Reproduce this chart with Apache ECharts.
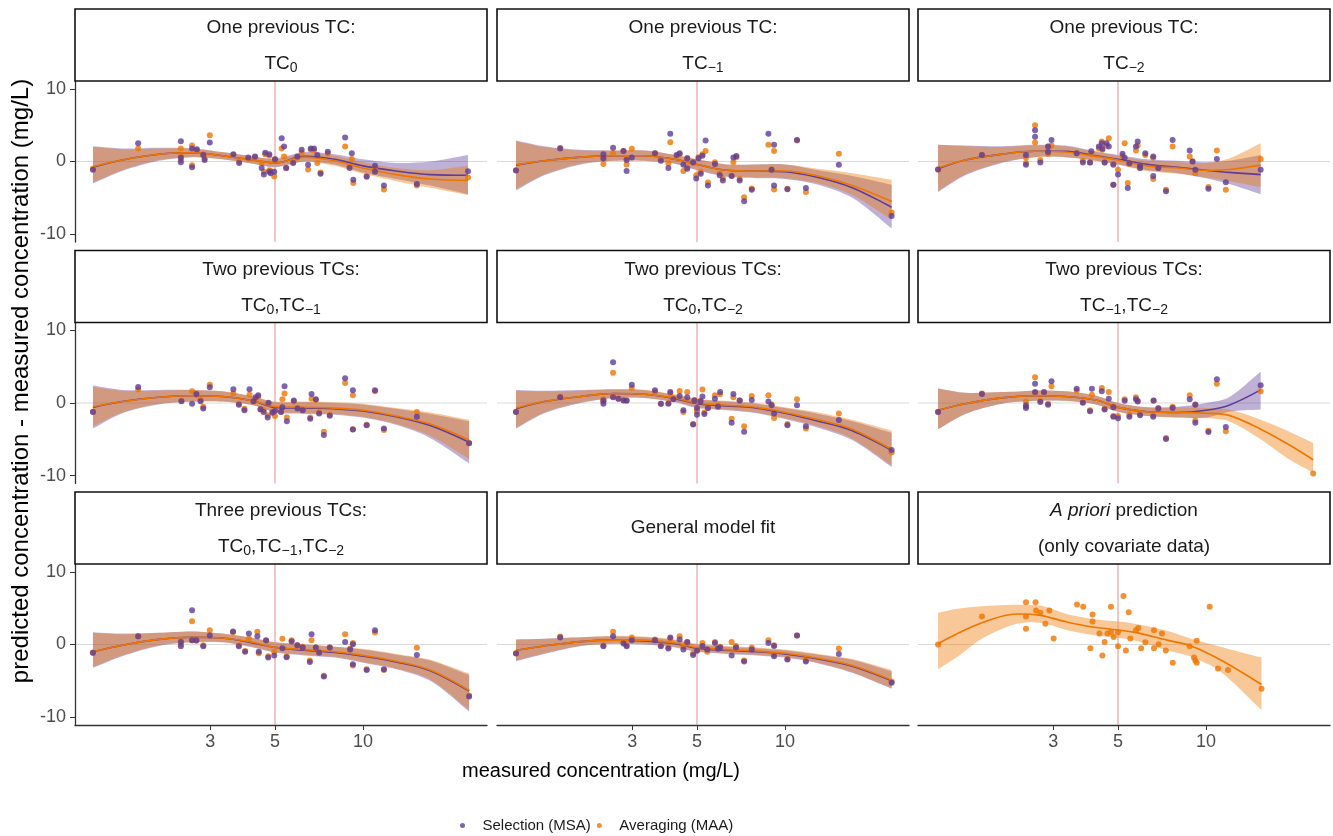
<!DOCTYPE html>
<html>
<head>
<meta charset="utf-8">
<script src="https://cdn.jsdelivr.net/npm/echarts@6/dist/echarts.min.js"></script>
<style>
html,body{margin:0;padding:0;background:#fff}
#main{width:1333px;height:836px}
</style>
</head>
<body>
<div id="main"></div>
<script>
// ---- data (x = measured conc., y = pred - meas) ----
var p1X   = [1.19,1.70,2.38,2.38,2.38,2.60,2.60,2.70,2.84,2.87,2.99,3.60,3.77,4.05,4.27,4.50,4.58,4.63,4.78,4.78,4.83,4.97,5.00,5.27,5.37,5.46,5.77,5.96,6.17,6.49,6.63,6.80,6.98,7.16,7.58,8.69,9.00,9.16,9.27,10.3,11.0,11.0,11.8,15.3,22.9];
var p1Msa = [-1.15,2.5,2.8,0.5,-0.1,1.8,-0.8,1.7,0.9,0.2,2.6,1.0,-0.2,0.55,0.7,-0.9,-1.8,1.2,1.0,-1.4,-1.6,-1.4,0.3,3.2,2.05,-0.9,-0.2,0.7,1.6,-0.45,1.8,1.8,0.9,-1.7,1.35,3.3,-0.9,1.15,-2.5,-2.1,-0.6,-1.4,-3.3,-3.1,-1.35];
var p1Maa = [-1.0,1.8,1.8,0.7,0.2,2.2,-0.5,1.5,1.0,0.4,3.6,0.9,0.0,0.4,0.6,-0.2,-1.4,1.0,0.8,-1.2,-1.3,-2.05,0.3,1.8,0.7,-0.9,-0.1,0.5,1.2,-1.1,1.6,1.5,-0.2,-1.5,1.1,2.05,-0.7,0.35,-2.95,-2.0,-0.9,-1.2,-3.85,-3.3,-2.2];
var p1Fx     = [1.19,1.5,2.0,2.6,3.3,4.2,5.0,6.3,8.0,10,13,17,22.9];
var p1MsaFit = [-0.8,0.2,1.0,1.2,0.8,0.2,-0.2,0.7,0.3,-0.6,-1.3,-1.8,-1.9];
var p1MsaLo  = [-3.0,-1.3,0.1,0.6,0.3,-0.3,-0.8,0.0,-0.4,-1.5,-2.4,-3.3,-4.5];
var p1MsaHi  = [2.1,1.8,1.9,1.8,1.3,0.7,0.4,1.3,1.0,0.3,-0.2,0.0,0.9];
var p1MaaFit = [-0.7,0.2,1.0,1.2,0.8,0.2,-0.2,0.6,0.1,-0.9,-1.8,-2.4,-2.6];
var p1MaaLo  = [-2.9,-1.2,0.2,0.6,0.3,-0.3,-0.7,0.0,-0.6,-1.7,-2.7,-3.6,-4.6];
var p1MaaHi  = [2.0,1.7,1.8,1.8,1.3,0.7,0.3,1.1,0.8,-0.1,-0.9,-1.2,-0.6];

var p2X   = [1.20,1.70,2.39,2.39,2.58,2.80,2.87,2.87,2.99,3.59,3.76,3.99,4.05,4.26,4.36,4.49,4.63,4.63,4.85,4.97,5.06,5.15,5.22,5.35,5.45,5.76,5.98,6.13,6.57,6.66,6.82,7.00,7.25,7.70,8.78,9.00,9.18,9.18,10.2,11.0,11.8,15.3,23.2];
var p2Msa = [-1.25,1.8,1.0,0.4,1.9,1.45,0.2,-1.3,0.55,1.15,0.1,-0.9,3.8,0.9,1.15,-0.45,0.45,-1.0,-0.1,-2.35,0.45,-1.7,0.8,2.9,-3.3,-0.35,-1.9,-2.6,-2.0,0.55,0.75,-2.6,-5.45,-3.9,3.8,-1.15,2.3,-3.3,-3.8,2.95,-3.65,-0.45,-7.5];
var p2Maa = [-1.2,1.85,-0.35,0.5,1.15,1.45,0.4,-0.4,1.75,1.15,0.2,-0.25,2.65,0.8,1.0,-1.3,0.45,-0.8,-0.25,-1.9,0.6,-1.4,1.0,1.45,-2.9,-0.1,-1.6,-2.3,-1.95,-0.1,0.6,-2.4,-4.9,-3.7,2.3,-1.1,1.45,-3.85,-3.75,2.9,-4.2,1.05,-7.0];
var p2Fx     = [1.2,1.5,2.0,2.6,3.3,4.2,5.0,6.3,8.0,10,13,17,23.2];
var p2MsaFit = [-0.5,0.1,0.6,0.8,0.8,0.3,-0.4,-1.2,-1.3,-1.4,-2.2,-3.6,-6.3];
var p2MsaLo  = [-4.0,-1.9,-0.4,0.1,0.1,-0.3,-1.2,-2.1,-2.3,-2.4,-3.2,-5.0,-9.2];
var p2MsaHi  = [2.9,2.1,1.6,1.5,1.5,0.9,0.3,-0.4,-0.4,-0.4,-1.2,-2.0,-3.2];
var p2MaaFit = [-0.45,0.1,0.6,0.8,0.8,0.3,-0.4,-1.2,-1.3,-1.3,-2.0,-3.3,-5.5];
var p2MaaLo  = [-3.8,-1.8,-0.3,0.1,0.1,-0.3,-1.1,-2.0,-2.2,-2.3,-3.0,-4.6,-8.0];
var p2MaaHi  = [2.8,2.0,1.5,1.5,1.5,0.9,0.3,-0.4,-0.4,-0.4,-1.0,-1.6,-2.5];

var p3X   = [1.21,1.71,2.42,2.42,2.60,2.60,2.71,2.88,2.88,2.96,3.61,3.79,4.01,4.05,4.30,4.40,4.42,4.50,4.57,4.65,4.82,4.82,5.00,5.18,5.27,5.40,5.47,5.76,5.84,5.95,5.95,6.20,6.60,6.60,6.87,7.30,7.69,8.80,9.00,9.20,10.2,10.9,11.7,15.4];
var p3Msa = [-1.1,0.9,0.9,-0.45,4.3,3.4,-0.15,2.05,1.3,2.95,1.15,-0.15,-0.15,1.4,2.05,2.5,1.75,-0.15,2.5,2.05,-0.45,-3.2,-1.8,1.05,0.5,-3.65,-0.25,2.05,2.75,-0.6,-0.9,1.15,0.7,-2.0,-0.9,-4.1,2.95,1.5,0.0,-1.15,-3.75,0.35,-2.85,-1.15];
var p3Maa = [-1.1,0.9,0.5,-0.2,5.0,2.6,0.2,2.05,1.05,2.2,1.15,0.1,-0.15,1.05,1.8,2.75,1.6,-0.15,2.2,3.2,-0.3,-3.2,-1.15,0.8,2.5,-2.95,-0.3,1.5,2.2,-0.6,-0.9,0.9,0.5,-2.4,-0.9,-3.9,2.05,0.7,0.0,-1.6,-3.5,1.5,-3.9,0.35];
var p3Fx     = [1.21,1.5,2.0,2.6,3.3,4.2,5.0,6.3,8.0,10,12,15.4];
var p3MsaFit = [-1.0,0.2,1.0,1.4,1.4,0.8,0.3,-0.4,-0.8,-1.2,-1.5,-1.8];
var p3MsaLo  = [-4.2,-1.9,-0.2,0.6,0.6,0.1,-0.4,-1.2,-1.6,-2.3,-3.1,-4.5];
var p3MsaHi  = [2.3,2.2,2.1,2.3,2.2,1.4,0.9,0.3,0.1,-0.1,0.1,0.9];
var p3MaaFit = [-0.9,0.2,1.0,1.4,1.3,0.7,0.2,-0.6,-0.9,-1.2,-1.1,-0.5];
var p3MaaLo  = [-4.1,-1.8,-0.1,0.6,0.6,0.1,-0.4,-1.3,-1.7,-2.2,-2.7,-3.5];
var p3MaaHi  = [2.3,2.1,2.0,2.2,2.1,1.3,0.8,0.1,-0.1,-0.2,0.4,2.5];

var p4X   = [1.19,1.70,2.39,2.60,2.69,2.78,2.84,2.99,3.60,3.76,3.93,4.09,4.22,4.29,4.38,4.46,4.57,4.72,4.75,4.90,5.00,5.24,5.30,5.39,5.49,5.80,5.97,6.22,6.60,6.67,6.90,7.08,7.35,7.70,8.69,9.24,9.24,10.3,11.0,11.8,15.3,23.1];
var p4Msa = [-1.25,2.2,0.25,-0.1,1.25,0.25,-0.75,2.15,1.9,-0.25,-1.0,1.9,0.25,0.8,1.05,-0.85,-1.25,-2.0,0.05,-1.35,-1.1,-1.25,-0.6,2.3,-2.5,0.35,-0.75,-1.0,-2.15,1.25,0.5,-1.45,-4.4,-1.75,3.4,1.75,-3.65,-3.05,1.75,-3.5,-1.9,-5.55];
var p4Maa = [-1.2,1.85,0.3,1.6,1.1,0.4,-0.5,2.5,1.3,-0.1,-0.8,1.15,0.25,0.6,0.9,-0.9,-1.0,-1.7,-0.1,-1.2,-1.8,-1.2,0.5,1.3,-2.0,0.2,-0.7,-0.9,-2.0,0.6,0.4,-1.3,-3.95,-1.6,2.75,1.05,-3.6,-3.0,1.6,-3.7,-1.25,-5.5];
var p4Fx     = [1.19,1.5,2.0,2.6,3.3,4.2,5.0,6.3,8.0,10,13,17,23.1];
var p4MsaFit = [-0.6,0.2,0.8,1.0,0.9,0.3,-0.6,-0.7,-0.8,-1.1,-1.9,-3.1,-5.4];
var p4MsaLo  = [-3.5,-1.4,-0.2,0.2,0.2,-0.3,-1.3,-1.5,-1.6,-2.0,-3.0,-4.8,-8.3];
var p4MsaHi  = [2.4,1.8,1.8,1.8,1.6,0.9,0.1,0.1,0.0,-0.2,-0.8,-1.5,-2.5];
var p4MaaFit = [-0.5,0.2,0.8,1.0,0.9,0.3,-0.5,-0.6,-0.7,-1.0,-1.8,-2.9,-5.1];
var p4MaaLo  = [-3.2,-1.3,-0.1,0.2,0.2,-0.3,-1.2,-1.4,-1.5,-1.9,-2.9,-4.5,-7.7];
var p4MaaHi  = [2.2,1.7,1.7,1.8,1.6,0.9,0.2,0.2,0.1,-0.1,-0.7,-1.3,-2.3];

var p5X   = [1.20,1.70,2.39,2.39,2.58,2.58,2.69,2.80,2.87,2.99,3.59,3.76,3.99,4.05,4.15,4.36,4.49,4.63,4.85,4.90,5.00,5.00,5.14,5.22,5.30,5.45,5.76,5.90,6.00,6.57,6.66,7.00,7.25,7.70,8.78,9.00,9.18,10.2,11.0,11.8,15.3,23.2];
var p5Msa = [-1.25,0.8,0.35,-0.1,5.6,0.8,0.6,0.35,0.35,2.5,1.75,-0.1,-0.1,1.5,0.5,0.95,-1.0,0.8,-2.95,0.35,-0.7,-1.6,0.2,0.9,-1.5,-0.7,0.6,-0.5,1.5,-2.7,1.25,0.35,-3.95,0.4,0.2,-0.3,-1.45,-3.05,-0.3,-3.2,-2.35,-6.45];
var p5Maa = [-1.2,0.85,0.5,0.2,4.15,0.85,0.6,0.4,0.3,2.05,1.5,-0.1,0.0,1.3,0.6,1.65,-1.25,1.5,-2.9,0.4,-1.0,-1.2,0.3,1.85,-1.3,-0.7,1.05,-0.3,1.2,-2.15,0.8,0.35,-3.2,0.95,1.05,-0.2,-2.05,-2.9,0.5,-3.5,-1.45,-6.8];
var p5Fx     = [1.2,1.5,2.0,2.6,3.3,4.2,5.0,6.3,8.0,10,13,17,23.2];
var p5MsaFit = [-0.8,0.2,0.9,1.3,1.2,0.6,-0.1,-0.4,-0.7,-1.4,-2.5,-3.8,-6.5];
var p5MsaLo  = [-3.5,-1.4,0.0,0.7,0.7,0.1,-0.7,-1.0,-1.4,-2.2,-3.4,-5.1,-8.8];
var p5MsaHi  = [1.8,1.7,1.8,1.9,1.8,1.1,0.5,0.2,-0.1,-0.7,-1.5,-2.5,-4.1];
var p5MaaFit = [-0.7,0.2,0.9,1.3,1.2,0.7,0.0,-0.3,-0.6,-1.3,-2.3,-3.6,-6.4];
var p5MaaLo  = [-3.4,-1.3,0.1,0.7,0.7,0.2,-0.6,-0.9,-1.3,-2.1,-3.2,-4.9,-8.6];
var p5MaaHi  = [1.7,1.6,1.7,1.9,1.8,1.2,0.6,0.3,0.0,-0.6,-1.3,-2.3,-3.8];

var p6X   = [1.21,1.71,2.42,2.42,2.60,2.60,2.71,2.79,2.88,2.96,3.61,3.79,4.01,4.07,4.40,4.50,4.65,4.82,4.82,5.00,5.27,5.47,5.76,5.84,5.95,6.60,6.62,6.87,7.30,7.69,8.80,9.20,9.20,10.2,10.9,11.7,15.4,23.3];
var p6Msa = [-1.25,1.25,-0.3,-0.7,2.65,1.5,0.15,1.5,-0.25,3.0,1.95,0.05,-1.15,1.95,1.6,-0.9,0.6,-1.9,-0.6,-2.1,0.3,-1.9,0.5,0.2,-1.7,-1.9,0.35,-0.75,-4.95,-0.7,0.5,-0.25,-2.7,-4.0,3.25,-3.3,2.45,null];
var p6Maa = [-1.2,1.3,0.2,-0.5,3.55,1.4,0.3,1.4,-0.1,2.3,1.7,0.1,-1.0,1.15,2.05,-0.8,1.5,-1.8,-0.5,-1.8,0.5,-1.6,0.8,0.3,-1.5,-1.7,0.3,-0.7,-4.8,-0.5,1.05,-0.2,-2.4,-3.8,2.65,-3.9,1.6,-9.7];
var p6FxMsa  = [1.21,1.5,2.0,2.6,3.3,4.2,5.0,6.3,8.0,10,12,15.4];
var p6MsaFit = [-1.0,-0.1,0.7,1.0,0.9,0.4,-0.6,-1.2,-1.3,-1.0,-0.3,1.8];
var p6MsaLo  = [-3.6,-1.5,-0.1,0.3,0.3,-0.2,-1.2,-1.8,-2.0,-2.0,-1.2,-0.9];
var p6MsaHi  = [2.0,1.4,1.5,1.7,1.6,1.0,0.0,-0.6,-0.5,0.0,0.8,4.3];
var p6FxMaa  = [1.21,1.5,2.0,2.6,3.3,4.2,5.0,6.3,8.0,10,12,15.4,19,23.3];
var p6MaaFit = [-1.0,-0.1,0.7,1.0,0.9,0.4,-0.6,-1.2,-1.3,-1.4,-1.7,-3.6,-5.6,-7.8];
var p6MaaLo  = [-3.6,-1.5,-0.1,0.3,0.3,-0.2,-1.2,-1.8,-2.0,-2.1,-2.5,-5.0,-7.6,-9.6];
var p6MaaHi  = [2.0,1.4,1.5,1.7,1.6,1.0,0.0,-0.6,-0.6,-0.7,-0.9,-2.3,-3.8,-5.5];

var p7X   = [1.19,1.70,2.38,2.38,2.60,2.60,2.69,2.84,2.99,3.59,3.76,3.95,4.07,4.35,4.40,4.66,4.74,4.97,5.30,5.48,5.70,5.96,6.22,6.58,6.67,6.90,7.08,7.35,7.70,8.69,9.04,9.24,9.24,10.3,11.0,11.8,15.3,23.1];
var p7Msa = [-1.15,1.15,0.35,-0.25,4.7,0.6,0.6,-0.25,1.25,1.8,-0.25,-1.0,1.5,1.15,-1.0,0.6,-1.8,-1.5,-0.5,-1.75,0.4,-0.1,-0.4,-2.4,1.4,-0.4,-1.15,-4.4,-0.4,0.35,-0.7,0.05,-2.7,-3.5,1.95,-3.4,-1.45,-7.15];
var p7Maa = [-1.15,1.1,0.4,0.0,3.2,0.6,0.5,-0.1,1.95,1.7,-0.1,-0.9,0.8,1.75,-1.2,0.5,-1.6,-1.0,0.8,-1.6,0.6,-0.1,-0.3,-2.2,0.6,-0.4,-1.0,-4.3,-0.4,1.4,-0.6,0.2,-2.9,-3.4,1.65,-3.5,-0.45,-7.0];
var p7Fx     = [1.19,1.5,2.0,2.6,3.3,4.2,5.0,6.3,8.0,10,13,17,23.1];
var p7MsaFit = [-1.0,-0.1,0.7,1.0,0.9,0.2,-0.4,-0.8,-1.1,-1.6,-2.4,-3.6,-6.4];
var p7MsaLo  = [-3.2,-1.6,-0.2,0.3,0.3,-0.4,-1.1,-1.5,-1.8,-2.5,-3.4,-5.0,-9.2];
var p7MsaHi  = [1.7,1.5,1.6,1.8,1.5,0.9,0.3,0.0,-0.3,-0.7,-1.4,-2.2,-4.2];
var p7MaaFit = [-1.0,-0.1,0.7,1.0,0.9,0.3,-0.4,-0.7,-1.0,-1.5,-2.3,-3.5,-6.3];
var p7MaaLo  = [-3.1,-1.5,-0.1,0.3,0.3,-0.3,-1.0,-1.4,-1.7,-2.4,-3.3,-4.8,-9.0];
var p7MaaHi  = [1.6,1.4,1.6,1.8,1.5,0.9,0.3,0.0,-0.3,-0.6,-1.3,-2.1,-4.0];

var p8X   = [1.20,1.70,2.39,2.58,2.80,2.87,2.99,3.59,3.76,3.99,4.05,4.36,4.49,4.63,4.85,5.00,5.22,5.42,5.76,5.90,6.00,6.57,6.80,7.25,7.70,8.78,9.18,9.18,10.2,11.0,11.8,15.3,23.2];
var p8Msa = [-1.25,0.95,-0.25,1.15,0.15,-0.25,0.6,0.6,-0.25,-0.55,0.95,0.7,-0.7,0.35,-1.45,-0.85,-0.2,-0.7,0.2,-0.6,-0.4,-1.5,-0.4,-2.35,-0.7,0.2,-0.2,-1.6,-2.05,1.25,-2.35,-1.3,-5.25];
var p8Maa = [-1.2,1.1,-0.1,1.75,0.3,-0.1,0.95,0.7,-0.1,-0.4,0.8,1.15,-0.3,0.3,-1.2,-0.8,0.2,-1.0,0.35,-0.5,-0.3,0.35,-0.2,-2.2,-0.4,0.6,-0.1,-1.4,-2.0,1.25,-2.2,-0.55,-5.1];
var p8Fx     = [1.2,1.5,2.0,2.6,3.3,4.2,5.0,6.3,8.0,10,13,17,23.2];
var p8MsaFit = [-0.8,-0.2,0.4,0.6,0.5,0.1,-0.5,-0.8,-1.0,-1.3,-2.0,-3.0,-5.0];
var p8MsaLo  = [-2.3,-1.3,-0.2,0.1,0.0,-0.4,-1.0,-1.3,-1.5,-1.8,-2.6,-3.9,-6.1];
var p8MsaHi  = [0.7,0.8,1.0,1.1,1.0,0.6,0.0,-0.3,-0.5,-0.8,-1.4,-2.1,-3.7];
var p8MaaFit = [-0.8,-0.2,0.4,0.6,0.6,0.2,-0.4,-0.7,-0.9,-1.2,-1.9,-2.9,-4.9];
var p8MaaLo  = [-2.2,-1.2,-0.2,0.1,0.1,-0.3,-0.9,-1.2,-1.4,-1.7,-2.5,-3.8,-6.0];
var p8MaaHi  = [0.7,0.8,1.0,1.2,1.1,0.7,0.1,-0.2,-0.4,-0.7,-1.3,-2.0,-3.5];

var p9X   = [1.21,1.71,2.42,2.42,2.42,2.61,2.62,2.71,2.82,2.91,3.01,3.62,3.80,4.02,4.09,4.09,4.32,4.42,4.50,4.60,4.73,4.73,4.83,5.00,5.00,5.22,5.32,5.44,5.51,5.76,5.87,6.00,6.20,6.64,6.64,6.89,7.07,7.29,7.70,8.79,9.10,9.20,9.30,9.30,10.3,11.0,11.9,15.5];
var p9Maa = [0.0,3.86,5.8,3.86,2.18,5.8,4.68,4.36,2.86,4.68,0.82,5.5,5.18,-0.5,4.13,3.18,1.5,-1.5,0.36,1.5,5.18,1.72,1.04,1.7,-0.23,6.68,-0.82,4.45,0.82,1.95,2.27,-0.5,0.3,1.95,-0.5,0.05,1.5,-0.82,-2.5,-0.23,-1.8,-2.2,0.5,-2.5,5.18,-3.3,-3.5,-6.1];
var p9Fx     = [1.21,1.41,1.71,2.25,2.71,3.34,4.1,5.65,7.36,8.9,11.2,15.5];
var p9MaaFit = [0.1,1.5,3.0,4.2,4.0,3.1,2.4,1.7,0.6,-0.2,-2.1,-5.5];
var p9MaaLo  = [-3.4,-1.7,0.8,2.85,3.0,2.0,1.3,0.6,-0.8,-1.7,-3.7,-9.0];
var p9MaaHi  = [4.35,4.9,5.25,5.45,5.35,4.2,3.5,2.9,1.9,0.8,-0.3,-1.8];

var stripTop    = ['One previous TC:','One previous TC:','One previous TC:','Two previous TCs:','Two previous TCs:','Two previous TCs:','Three previous TCs:','General model fit','{i|A priori} prediction'];
var stripBottom = ['TC{s|0}','TC{s|\u22121}','TC{s|\u22122}','TC{s|0},TC{s|\u22121}','TC{s|0},TC{s|\u22122}','TC{s|\u22121},TC{s|\u22122}','TC{s|0},TC{s|\u22121},TC{s|\u22122}','','(only covariate data)'];
var xTicks = [3, 5, 10];
var yTicks = [-10, 0, 10];
var refX = 5, refY = 0;
var legendNames = ['Selection (MSA)', 'Averaging (MAA)'];

// ---- layout ----
var FONT = '"Liberation Sans", Arial, Helvetica, sans-serif';
var PURPLE = '#5e3c99', ORANGE = '#ee7600';
var colLeft = [75, 497, 918], rowTop = [81, 322.5, 564];
var PW = 412, PH = 161, STRIP_H = 72;
var X_MIN = 1.033, X_MAX = 26.6, Y_MIN = -11.07, Y_MAX = 11.07;

var panels = [
  {x:p1X,msa:p1Msa,maa:p1Maa,fxS:p1Fx,sF:p1MsaFit,sL:p1MsaLo,sH:p1MsaHi,fxA:p1Fx,aF:p1MaaFit,aL:p1MaaLo,aH:p1MaaHi},
  {x:p2X,msa:p2Msa,maa:p2Maa,fxS:p2Fx,sF:p2MsaFit,sL:p2MsaLo,sH:p2MsaHi,fxA:p2Fx,aF:p2MaaFit,aL:p2MaaLo,aH:p2MaaHi},
  {x:p3X,msa:p3Msa,maa:p3Maa,fxS:p3Fx,sF:p3MsaFit,sL:p3MsaLo,sH:p3MsaHi,fxA:p3Fx,aF:p3MaaFit,aL:p3MaaLo,aH:p3MaaHi},
  {x:p4X,msa:p4Msa,maa:p4Maa,fxS:p4Fx,sF:p4MsaFit,sL:p4MsaLo,sH:p4MsaHi,fxA:p4Fx,aF:p4MaaFit,aL:p4MaaLo,aH:p4MaaHi},
  {x:p5X,msa:p5Msa,maa:p5Maa,fxS:p5Fx,sF:p5MsaFit,sL:p5MsaLo,sH:p5MsaHi,fxA:p5Fx,aF:p5MaaFit,aL:p5MaaLo,aH:p5MaaHi},
  {x:p6X,msa:p6Msa,maa:p6Maa,fxS:p6FxMsa,sF:p6MsaFit,sL:p6MsaLo,sH:p6MsaHi,fxA:p6FxMaa,aF:p6MaaFit,aL:p6MaaLo,aH:p6MaaHi},
  {x:p7X,msa:p7Msa,maa:p7Maa,fxS:p7Fx,sF:p7MsaFit,sL:p7MsaLo,sH:p7MsaHi,fxA:p7Fx,aF:p7MaaFit,aL:p7MaaLo,aH:p7MaaHi},
  {x:p8X,msa:p8Msa,maa:p8Maa,fxS:p8Fx,sF:p8MsaFit,sL:p8MsaLo,sH:p8MsaHi,fxA:p8Fx,aF:p8MaaFit,aL:p8MaaLo,aH:p8MaaHi},
  {x:p9X,msa:[],maa:p9Maa,fxS:[],sF:[],sL:[],sH:[],fxA:p9Fx,aF:p9MaaFit,aL:p9MaaLo,aH:p9MaaHi}
];

function pts(xs, ys){
  var out = [];
  for (var i = 0; i < xs.length; i++) {
    if (ys[i] != null) out.push([xs[i], ys[i]]);
  }
  return out;
}

// confidence ribbon: one closed smooth polygon through the library's coords
function band(gi, xs, lo, hi, color){
  return {
    type:'custom', xAxisIndex:gi, yAxisIndex:gi, silent:true, z:1,
    data:[[xs[0], lo[0]]],
    renderItem:function(params, api){
      var n = xs.length, poly = [], i;
      for (i = 0; i < n; i++) poly.push(api.coord([xs[i], hi[i]]));
      poly.push(poly[poly.length - 1]);
      var start = poly.length;
      for (i = n - 1; i >= 0; i--) poly.push(api.coord([xs[i], lo[i]]));
      poly.splice(start, 0, poly[start]);
      poly.push(poly[poly.length - 1]);
      poly.unshift(poly[0]);
      return {type:'polygon', shape:{points:poly, smooth:0.3},
        style:{fill:color, opacity:0.4}};
    }
  };
}

// reference line across the panel: vertical at x = value or horizontal at y = value
function refLine(gi, vertical, color, z){
  return {
    type:'custom', xAxisIndex:gi, yAxisIndex:gi, silent:true, z:z,
    data:[[refX, refY]],
    renderItem:function(params, api){
      var cs = params.coordSys;
      var c = api.coord([api.value(0), api.value(1)]);
      var shape = vertical
        ? {x1:c[0], y1:cs.y, x2:c[0], y2:cs.y + cs.height}
        : {x1:cs.x, y1:c[1], x2:cs.x + cs.width, y2:c[1]};
      return {type:'line', shape:shape, style:{stroke:color, lineWidth:1}};
    }
  };
}

var grids = [], xAxes = [], yAxes = [], series = [], graphics = [];
var axisCol = '#333333', labCol = '#4d4d4d';

panels.forEach(function(p, gi){
  var r = Math.floor(gi / 3), c = gi % 3;
  grids.push({left:colLeft[c], top:rowTop[r], width:PW, height:PH});
  var bottom = (r === 2), left = (c === 0);
  xAxes.push({gridIndex:gi, type:'log', logBase:10, min:X_MIN, max:X_MAX,
    axisLine:{show:bottom, onZero:false, lineStyle:{color:axisCol, width:1.3}},
    axisTick:{show:bottom, customValues:xTicks, length:5, lineStyle:{color:axisCol}},
    axisLabel:{show:bottom, customValues:xTicks, color:labCol, fontSize:18, fontFamily:FONT, margin:8},
    splitLine:{show:false}, minorTick:{show:false}, axisPointer:{show:false}});
  yAxes.push({gridIndex:gi, type:'value', min:Y_MIN, max:Y_MAX,
    axisLine:{show:left, onZero:false, lineStyle:{color:axisCol, width:1.3}},
    axisTick:{show:left, customValues:yTicks, length:5, lineStyle:{color:axisCol}},
    axisLabel:{show:left, customValues:yTicks, color:labCol, fontSize:18, fontFamily:FONT, margin:9},
    splitLine:{show:false}, axisPointer:{show:false}});

  var hasMsa = p.sF.length > 0;
  series.push(refLine(gi, false, '#d9d9d9', 0));
  if (hasMsa) series.push(band(gi, p.fxS, p.sL, p.sH, PURPLE));
  series.push(band(gi, p.fxA, p.aL, p.aH, ORANGE));
  series.push(refLine(gi, true, '#e28f8f', 2));
  if (hasMsa) series.push({type:'line', xAxisIndex:gi, yAxisIndex:gi, data:pts(p.fxS, p.sF), smooth:0.35,
    symbol:'none', silent:true, z:3, lineStyle:{color:PURPLE, width:1.6}});
  series.push({type:'line', xAxisIndex:gi, yAxisIndex:gi, data:pts(p.fxA, p.aF), smooth:0.35,
    symbol:'none', silent:true, z:3, lineStyle:{color:ORANGE, width:1.6}});
  series.push({type:'scatter', name:legendNames[1], xAxisIndex:gi, yAxisIndex:gi, data:pts(p.x, p.maa),
    symbolSize:6, z:4, itemStyle:{color:ORANGE}});
  series.push({type:'scatter', name:legendNames[0], xAxisIndex:gi, yAxisIndex:gi, data:pts(p.x, p.msa),
    symbolSize:6, z:5, itemStyle:{color:PURPLE}});

  // facet strip
  var sx = colLeft[c], sy = rowTop[r] - STRIP_H;
  graphics.push({type:'rect', z:10, shape:{x:sx, y:sy, width:PW, height:STRIP_H},
    style:{fill:'#ffffff', stroke:'#111111', lineWidth:1.6}});
  var rich = {
    s:{fontSize:14, fontFamily:FONT, fill:'#1a1a1a', padding:[9,0,0,0]},
    i:{fontSize:19, fontFamily:FONT, fill:'#1a1a1a', fontStyle:'italic'}
  };
  if (stripBottom[gi] === '') {
    graphics.push({type:'text', z:11, x:sx + PW / 2, y:sy + STRIP_H / 2,
      style:{text:stripTop[gi], fontSize:19, fontFamily:FONT, fill:'#1a1a1a', align:'center', verticalAlign:'middle', rich:rich}});
  } else {
    graphics.push({type:'text', z:11, x:sx + PW / 2, y:sy + 19,
      style:{text:stripTop[gi], fontSize:19, fontFamily:FONT, fill:'#1a1a1a', align:'center', verticalAlign:'middle', rich:rich}});
    graphics.push({type:'text', z:11, x:sx + PW / 2, y:sy + 55,
      style:{text:stripBottom[gi], fontSize:19, fontFamily:FONT, fill:'#1a1a1a', align:'center', verticalAlign:'middle', rich:rich}});
  }
});

// axis titles
graphics.push({type:'text', x:601, y:771,
  style:{text:'measured concentration (mg/L)', fontSize:20, fontFamily:FONT, fill:'#000', align:'center', verticalAlign:'middle'}});
graphics.push({type:'text', x:21, y:381, rotation:Math.PI / 2,
  style:{text:'predicted concentration - measured concentration (mg/L)', fontSize:24, fontFamily:FONT, fill:'#000', align:'center', verticalAlign:'middle'}});

var chart = echarts.init(document.getElementById('main'));
chart.setOption({
  animation:false,
  backgroundColor:'#ffffff',
  textStyle:{fontFamily:FONT},
  grid:grids,
  xAxis:xAxes,
  yAxis:yAxes,
  legend:{data:legendNames, left:455, top:813, icon:'circle', itemWidth:30, itemHeight:5, itemGap:6,
    selectedMode:false, textStyle:{fontSize:15, color:'#1a1a1a', fontFamily:FONT}},
  graphic:graphics,
  series:series
});
</script>
</body>
</html>
